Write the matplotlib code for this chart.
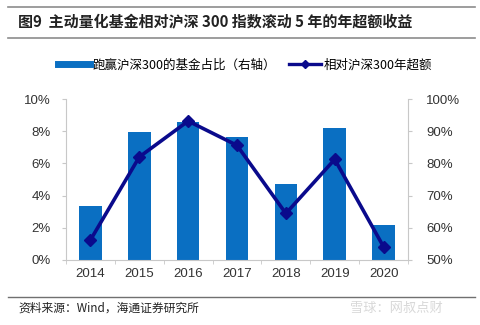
import numpy as np
import matplotlib
matplotlib.use("Agg")
import matplotlib.pyplot as plt
from matplotlib.lines import Line2D

plt.rcParams['font.family'] = ['Noto Sans CJK SC', 'DejaVu Sans']

# 数据
years = ['2014', '2015', '2016', '2017', '2018', '2019', '2020']
win_ratio = [66.7, 89.9, 92.9, 88.3, 73.7, 90.9, 61.0]    # 跑赢沪深300的基金占比 (%)，右轴
excess_ret = [1.24, 6.40, 8.63, 7.12, 2.89, 6.25, 0.82]   # 相对沪深300年超额 (%)，左轴

bar_color = '#0A6FC2'
line_color = '#0A0A8C'
axis_gray = '#C8C8C8'
tick_font = ['Liberation Sans', 'DejaVu Sans']

fig = plt.figure(figsize=(4.8, 3.25), dpi=100)
fig.patch.set_facecolor('white')

# 标题和上下分隔线
fig.add_artist(Line2D([8 / 480, 475 / 480], [1 - 7 / 325] * 2, color='#8C8C8C', lw=1.2))
fig.add_artist(Line2D([8 / 480, 475 / 480], [1 - 38 / 325] * 2, color='#8C8C8C', lw=1.2))
fig.text(18 / 480, 1 - 22 / 325, '图9  主动量化基金相对沪深 300 指数滚动 5 年的年超额收益',
         fontsize=10.8, fontweight='bold', color='#222222', va='center', ha='left')

fig.add_artist(Line2D([8 / 480, 475 / 480], [1 - 297 / 325] * 2, color='#707070', lw=1.0))
fig.text(18 / 480, 1 - 308 / 325, '资料来源：Wind，海通证券研究所',
         fontsize=8.5, color='#222222', va='center', ha='left')
fig.text(350 / 480, 1 - 308 / 325, '雪球：网叔点财',
         fontsize=9.5, color='#D8D8D8', va='center', ha='left')

# 柱状图（右轴）
ax = fig.add_axes([66 / 480, 65 / 325, 342 / 480, 161 / 325])
ax2 = ax.twinx()
ax2.set_zorder(ax.get_zorder() + 1)
ax2.patch.set_visible(False)

x = np.arange(len(years))
ax.bar(x, win_ratio, width=0.46, color=bar_color, zorder=2)
ax.set_ylim(50, 100)
ax.set_xlim(-0.5, len(years) - 0.5)
ax.yaxis.tick_right()
ax.set_yticks(np.arange(50, 101, 10))
ax.set_yticklabels(['%d%%' % v for v in np.arange(50, 101, 10)],
                   family=tick_font, fontsize=9.5, color='#333333')
ax.set_xticks(x)
ax.set_xticklabels(years, family=tick_font, fontsize=9.5, color='#333333')
ax.tick_params(axis='x', length=0, pad=6)
ax.set_xticks(np.arange(-0.5, len(years), 1), minor=True)
ax.tick_params(axis='x', which='minor', length=3, color=axis_gray, direction='out')
ax.tick_params(axis='y', length=3, color=axis_gray, pad=10)
for s in ['top', 'left']:
    ax.spines[s].set_visible(False)
ax.spines['right'].set_color(axis_gray)
ax.spines['bottom'].set_color(axis_gray)

# 折线图（左轴）
ax2.plot(x, excess_ret, color=line_color, lw=2.6, marker='D', markersize=6,
         markerfacecolor=line_color, markeredgecolor=line_color, zorder=3)
ax2.set_ylim(0, 10)
ax2.yaxis.tick_left()
ax2.yaxis.set_label_position('left')
ax2.set_yticks(np.arange(0, 11, 2))
ax2.set_yticklabels(['%d%%' % v for v in np.arange(0, 11, 2)],
                    family=tick_font, fontsize=9.5, color='#333333')
ax2.tick_params(axis='y', length=3, color=axis_gray, pad=8)
for s in ['top', 'right', 'bottom']:
    ax2.spines[s].set_visible(False)
ax2.spines['left'].set_visible(True)
ax2.spines['left'].set_color(axis_gray)

# 图例
handles = [Line2D([0], [0], color=bar_color, lw=5),
           Line2D([0], [0], color=line_color, lw=2.4, marker='D', markersize=4)]
labels = ['跑赢沪深300的基金占比（右轴）', '相对沪深300年超额']
fig.legend(handles, labels, loc='center', bbox_to_anchor=(0.51, 1 - 65 / 325),
           ncol=2, frameon=False, fontsize=9, handlelength=2.6, handletextpad=0.2,
           columnspacing=1.0)

fig.savefig('out.png', dpi=100, facecolor='white')
